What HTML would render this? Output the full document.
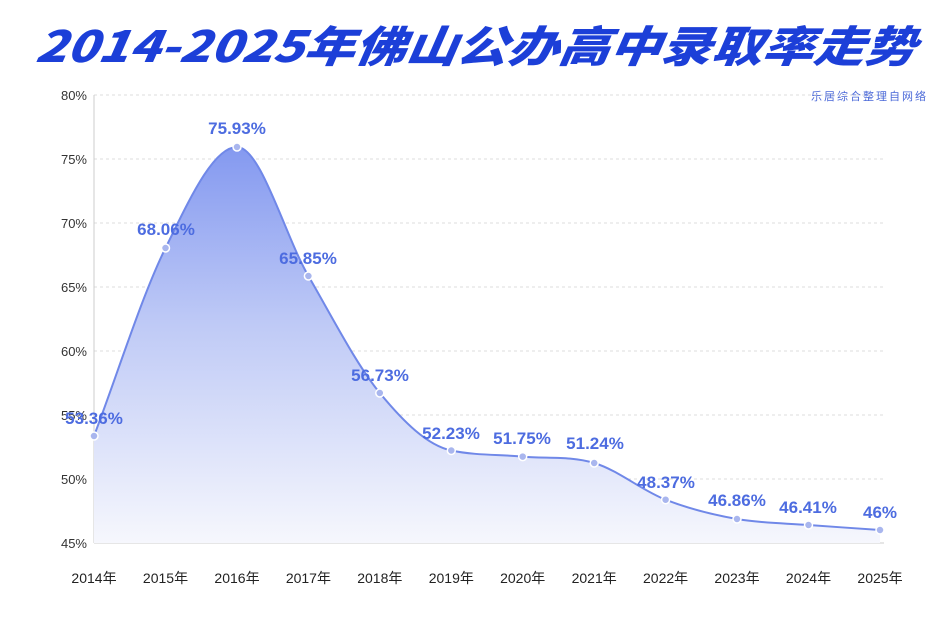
<!DOCTYPE html>
<html><head><meta charset="utf-8"><style>
body{margin:0;background:#fff;width:950px;height:615px;overflow:hidden}
svg text{font-family:"Liberation Sans","Noto Sans CJK SC",sans-serif}
</style></head><body>
<svg width="950" height="615" xmlns="http://www.w3.org/2000/svg">
<defs>
<linearGradient id="g" x1="0" y1="0" x2="0" y2="1">
<stop offset="0" stop-color="#8499f0"/>
<stop offset="0.45" stop-color="#bfcaf6"/>
<stop offset="1" stop-color="#f6f7fd"/>
</linearGradient>
</defs>
<text x="475" y="62" text-anchor="middle" font-size="43" font-weight="900" fill="#1c3fd8" style="font-family:'Noto Sans CJK SC',sans-serif;font-style:italic" transform="skewX(-8) translate(8,0)" textLength="880" lengthAdjust="spacingAndGlyphs">2014-2025年佛山公办高中录取率走势</text>
<text x="928" y="100" text-anchor="end" font-size="11" fill="#4a68d8" letter-spacing="2">乐居综合整理自网络</text>
<g stroke="#dcdcdc" stroke-dasharray="3,3" stroke-width="1">
<line x1="94" y1="95" x2="884" y2="95"/><line x1="94" y1="159" x2="884" y2="159"/><line x1="94" y1="223" x2="884" y2="223"/><line x1="94" y1="287" x2="884" y2="287"/><line x1="94" y1="351" x2="884" y2="351"/><line x1="94" y1="415" x2="884" y2="415"/><line x1="94" y1="479" x2="884" y2="479"/>
</g>
<line x1="94" y1="95" x2="94" y2="543" stroke="#ccc"/>
<line x1="94" y1="543" x2="884" y2="543" stroke="#ccc"/>
<g font-size="13" fill="#333" text-anchor="end">
<text x="87" y="100">80%</text><text x="87" y="164">75%</text><text x="87" y="228">70%</text><text x="87" y="292">65%</text><text x="87" y="356">60%</text><text x="87" y="420">55%</text><text x="87" y="484">50%</text><text x="87" y="548">45%</text>
</g>
<path d="M94,436 C117.8,373.3 141.7,296.2 165.5,248 C189.3,199.8 213.2,147 237,147 C260.8,147 284.6,235 308.4,276 C332.2,317 356,364 379.8,393 C403.6,422 427.5,445.5 451.3,450.5 C475.1,455.5 498.9,454.5 522.7,456.6 C546.5,458.7 570.4,455.8 594.2,463 C618,470.2 641.8,490.4 665.6,499.7 C689.4,509 713.2,514.8 737,519 C760.8,523.2 784.7,523.2 808.5,525 C832.3,526.8 856.2,528.3 880,530 L880,543 L94,543 Z" fill="url(#g)"/>
<path d="M94,436 C117.8,373.3 141.7,296.2 165.5,248 C189.3,199.8 213.2,147 237,147 C260.8,147 284.6,235 308.4,276 C332.2,317 356,364 379.8,393 C403.6,422 427.5,445.5 451.3,450.5 C475.1,455.5 498.9,454.5 522.7,456.6 C546.5,458.7 570.4,455.8 594.2,463 C618,470.2 641.8,490.4 665.6,499.7 C689.4,509 713.2,514.8 737,519 C760.8,523.2 784.7,523.2 808.5,525 C832.3,526.8 856.2,528.3 880,530" fill="none" stroke="#7088e8" stroke-width="2"/>
<g fill="#a9b6ee" stroke="#fff" stroke-width="1.5">
<circle cx="94" cy="436" r="4"/><circle cx="165.5" cy="248" r="4"/><circle cx="237" cy="147" r="4"/><circle cx="308.4" cy="276" r="4"/><circle cx="379.8" cy="393" r="4"/><circle cx="451.3" cy="450.5" r="4"/><circle cx="522.7" cy="456.6" r="4"/><circle cx="594.2" cy="463" r="4"/><circle cx="665.6" cy="499.7" r="4"/><circle cx="737" cy="519" r="4"/><circle cx="808.5" cy="525" r="4"/><circle cx="880" cy="530" r="4"/>
</g>
<g font-size="17" font-weight="bold" fill="#4d6ce0" text-anchor="middle">
<text x="94" y="424">53.36%</text><text x="166" y="235">68.06%</text><text x="237" y="134">75.93%</text><text x="308" y="264">65.85%</text><text x="380" y="381">56.73%</text><text x="451" y="439">52.23%</text><text x="522" y="444">51.75%</text><text x="595" y="449">51.24%</text><text x="666" y="488">48.37%</text><text x="737" y="506">46.86%</text><text x="808" y="513">46.41%</text><text x="880" y="518">46%</text>
</g>
<g font-size="14" fill="#222" text-anchor="middle">
<text x="94" y="583">2014年</text><text x="165.5" y="583">2015年</text><text x="237" y="583">2016年</text><text x="308.4" y="583">2017年</text><text x="379.8" y="583">2018年</text><text x="451.3" y="583">2019年</text><text x="522.7" y="583">2020年</text><text x="594.2" y="583">2021年</text><text x="665.6" y="583">2022年</text><text x="737" y="583">2023年</text><text x="808.5" y="583">2024年</text><text x="880" y="583">2025年</text>
</g>
</svg>
</body></html>
